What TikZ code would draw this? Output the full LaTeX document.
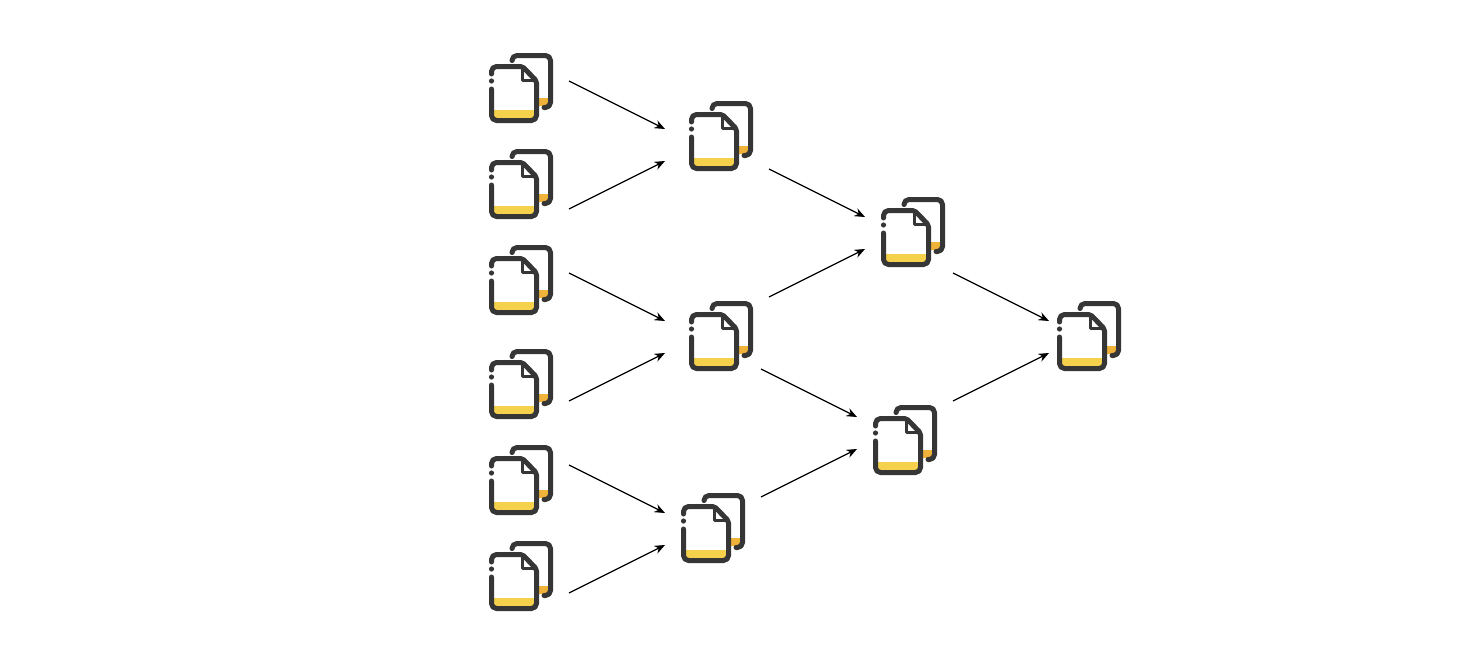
\documentclass[tikz,border=0pt]{standalone}
\usepackage{xcolor}
\usepackage{tikz}
\usetikzlibrary{arrows.meta}
\definecolor{docline}{HTML}{363636}
\definecolor{docfill}{HTML}{F6D24C}
\definecolor{docback}{HTML}{EFB23A}

\tikzset{
    flow/.style={draw=black, line width=1.2pt, -{Stealth[length=10.5pt, width=8.5pt]}},
    docspot/.style={inner sep=0pt, minimum width=64pt, minimum height=70pt},
    docfile/.pic={
        \fill [docfill] (-27,22) rectangle (13.5,30.5);
        \fill [docback] (17,9.5) rectangle (27,17.5);
        \draw [docline, line width=5pt, line cap=round, line join=round, rounded corners=5pt]
            (-9,-28) -- (-9,-32.5) -- (29.5,-32.5) -- (29.5,19.5) -- (23,19.5);
        \draw [docline, line width=5pt, line cap=round, line join=round, rounded corners=5pt]
            (-29.5,-14) -- (-29.5,-21.5) [rounded corners=2pt] -- (1.5,-21.5) -- (15.5,-7) [rounded corners=5pt] -- (15.5,32.5) -- (-29.5,32.5) -- (-29.5,1);
        \fill [docline] (-29.5,-7) circle (2.6pt);
        \draw [docline, line width=3.5pt, line join=round]
            (1.5,-21) -- (1.5,-7.5) -- (15,-7.5);
    }
}

\begin{document}
\begin{tikzpicture}[x=1pt, y=-1pt]
        \useasboundingbox (0,0) rectangle (1482,656);

        % Nodes
        \foreach \name/\pos in {a1/{521,88}, a2/{521,184}, a3/{521,280}, a4/{521,384}, a5/{521,480}, a6/{521,576},
                b1/{721,136}, b2/{721,336}, b3/{713,528},
                c1/{913,232}, c2/{905,440},
                final/{1089,336}} {
            \node (\name) [docspot] at (\pos) {};
            \pic at (\pos) {docfile};
        }

        % Arrows
        \draw [flow] ([shift={(48,-7)}]a1.center) -- ([shift={(-56,-7)}]b1.center);
        \draw [flow] ([shift={(48,25)}]a2.center) -- ([shift={(-56,25)}]b1.center);
        \draw [flow] ([shift={(48,-7)}]a3.center) -- ([shift={(-56,-15)}]b2.center);
        \draw [flow] ([shift={(48,17)}]a4.center) -- ([shift={(-56,17)}]b2.center);
        \draw [flow] ([shift={(48,-15)}]a5.center) -- ([shift={(-48,-15)}]b3.center);
        \draw [flow] ([shift={(48,17)}]a6.center) -- ([shift={(-48,17)}]b3.center);
        \draw [flow] ([shift={(48,33)}]b1.center) -- ([shift={(-48,-15)}]c1.center);
        \draw [flow] ([shift={(48,-39)}]b2.center) -- ([shift={(-48,17)}]c1.center);
        \draw [flow] ([shift={(40,33)}]b2.center) -- ([shift={(-48,-23)}]c2.center);
        \draw [flow] ([shift={(48,-31)}]b3.center) -- ([shift={(-48,9)}]c2.center);
        \draw [flow] ([shift={(40,41)}]c1.center) -- ([shift={(-40,-15)}]final.center);
        \draw [flow] ([shift={(48,-39)}]c2.center) -- ([shift={(-40,17)}]final.center);
    \end{tikzpicture}
\end{document}
